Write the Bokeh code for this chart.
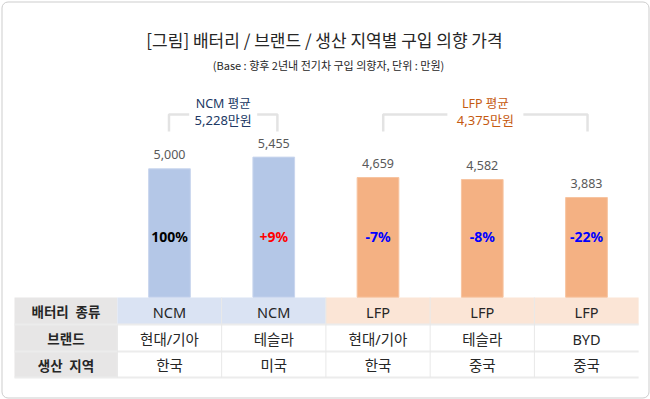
from bokeh.plotting import figure
from bokeh.models import Range1d
from bokeh.core.properties import value
from bokeh.embed import file_html
from bokeh.resources import INLINE

# ---------------- data ----------------
title_text = "[그림] 배터리 / 브랜드 / 생산 지역별 구입 의향 가격"
subtitle_text = "(Base : 향후 2년내 전기차 구입 의향자, 단위 : 만원)"

battery = ["NCM", "NCM", "LFP", "LFP", "LFP"]
brands = ["현대/기아", "테슬라", "현대/기아", "테슬라", "BYD"]
regions = ["한국", "미국", "한국", "중국", "중국"]
prices = [5000, 5455, 4659, 4582, 3883]
price_labels = ["5,000", "5,455", "4,659", "4,582", "3,883"]
pct_labels = ["100%", "+9%", "-7%", "-8%", "-22%"]
row_headers = ["배터리\u2002종류", "브랜드", "생산\u2002지역"]
group_names = ["NCM 평균", "LFP 평균"]
group_avgs = ["5,228만원", "4,375만원"]
group_members = [[0, 1], [2, 3, 4]]

# ---------------- styles ----------------
KR = "Noto Sans CJK KR"
MIX = "'Noto Sans', 'Noto Sans CJK KR'"
bar_colors = {"NCM": "#b4c7e7", "LFP": "#f4b183"}
bar_edges = {"NCM": "#c9d6ee", "LFP": "#f7c4a0"}
cell_colors = {"NCM": "#dae3f3", "LFP": "#fbe5d6"}
group_colors = ["#203864", "#c55a11"]
pct_colors = ["#000000", "#ff0000", "#0000ff", "#0000ff", "#0000ff"]

W, H = 650, 399
X0, STEP = 169, 104.25      # page x of first category, spacing
Y0, PXU = 296.7, 0.02568    # page y of value 0, pixels per unit

p = figure(width=W, height=H, output_backend="svg", toolbar_location=None,
           x_range=Range1d((0 - X0) / STEP, (W - X0) / STEP),
           y_range=Range1d((Y0 - H) / PXU, Y0 / PXU),
           x_axis_location=None, y_axis_location=None, min_border=0,
           background_fill_color="white", border_fill_color="white")
p.extra_x_ranges = {"px": Range1d(0, W)}
p.extra_y_ranges = {"py": Range1d(H, 0)}
p.grid.visible = False
p.outline_line_color = None

idx = list(range(len(prices)))

# rounded frame
p.quad(left=[1.5], right=[W - 1.5], top=[1.5], bottom=[H - 1.5],
       x_range_name="px", y_range_name="py", fill_color=None,
       line_color="#cdcdcd", line_width=1, border_radius=6)

# ---------------- titles ----------------
p.text(x=[324], y=[39], text=[title_text], x_range_name="px", y_range_name="py",
       text_font=value(KR), text_font_size="17px", text_color="#262626",
       text_align="center", text_baseline="middle")
p.text(x=[328], y=[64.5], text=[subtitle_text], x_range_name="px", y_range_name="py",
       text_font=value(KR), text_font_size="11px", text_color="#262626",
       text_align="center", text_baseline="middle")

# ---------------- table ----------------
row_top = [297, 324, 351]
row_bot = [324, 351, 377]
row_mid = [(a + b) / 2 for a, b in zip(row_top, row_bot)]
tbl_left, hdr_right, tbl_right = 14, X0 - STEP / 2, X0 + STEP * 4.5

p.quad(left=[tbl_left] * 3, right=[hdr_right] * 3, top=row_top, bottom=row_bot,
       x_range_name="px", y_range_name="py", fill_color="#e7e6e6", line_color=None)
p.quad(left=[i - 0.5 for i in idx], right=[i + 0.5 for i in idx],
       top=[row_top[0]] * 5, bottom=[row_bot[0]] * 5, y_range_name="py",
       fill_color=[cell_colors[b] for b in battery], line_color=None)
p.multi_line(xs=[[tbl_left, tbl_right]] * 3, ys=[[b, b] for b in row_bot],
             x_range_name="px", y_range_name="py", line_color="#ececec", line_width=2)
p.segment(x0=[i - 0.5 for i in idx[1:]], y0=[row_top[0]] * 4,
          x1=[i - 0.5 for i in idx[1:]], y1=[row_bot[-1]] * 4,
          y_range_name="py", line_color="#e8e8e8", line_width=1)
p.segment(x0=[-0.5], y0=[row_top[1]], x1=[-0.5], y1=[row_bot[-1]],
          y_range_name="py", line_color="#e8e8e8", line_width=1)

p.text(x=[(tbl_left + hdr_right) / 2] * 3, y=row_mid, text=row_headers,
       x_range_name="px", y_range_name="py",
       text_font=value(KR), text_font_style="bold", text_font_size="13.5px",
       text_color="#262626", text_align="center", text_baseline="middle")
for r, vals in enumerate([battery, brands, regions]):
    p.text(x=idx, y=[row_mid[r] + 0.5] * 5, text=vals, y_range_name="py",
           text_font=value(MIX), text_font_size="14.5px", text_color="#262626",
           text_align="center", text_baseline="middle")

# ---------------- bars ----------------
p.vbar(x=idx, top=prices, bottom=0, width=0.4,
       fill_color=[bar_colors[b] for b in battery],
       line_color=[bar_edges[b] for b in battery], line_width=1)

p.text(x=idx, y=prices, text=price_labels, y_offset=-14,
       text_font=value("Noto Sans"), text_font_size="12.5px", text_color="#595959",
       text_align="center", text_baseline="middle")

p.text(x=idx, y=[235.7] * 5, text=pct_labels, y_range_name="py",
       text_font=value("Noto Sans"), text_font_style="bold", text_font_size="14px",
       text_color=pct_colors, text_align="center", text_baseline="middle")

# ---------------- group brackets ----------------
gap_half = [34, 38]
for g, members in enumerate(group_members):
    x0 = min(members) - 0.005 if g == 0 else min(members) + 0.05
    x1 = max(members) + 0.035 if g == 0 else max(members) + 0.01
    cx = (x0 + x1) / 2
    gh = gap_half[g] / STEP
    p.multi_line(xs=[[x0, x0, cx - gh], [cx + gh, x1, x1]],
                 ys=[[131, 114, 114], [114, 114, 131]], y_range_name="py",
                 line_color="#e3e3e3", line_width=2.5)
    p.text(x=[cx], y=[103], text=[group_names[g]], y_range_name="py",
           text_font=value(MIX), text_font_size="12.5px", text_color=group_colors[g],
           text_align="center", text_baseline="middle")
    p.text(x=[cx], y=[119.5], text=[group_avgs[g]], y_range_name="py",
           text_font=value(MIX), text_font_size="13px", text_color=group_colors[g],
           text_align="center", text_baseline="middle")

open("out.html", "w").write(file_html(p, INLINE))
